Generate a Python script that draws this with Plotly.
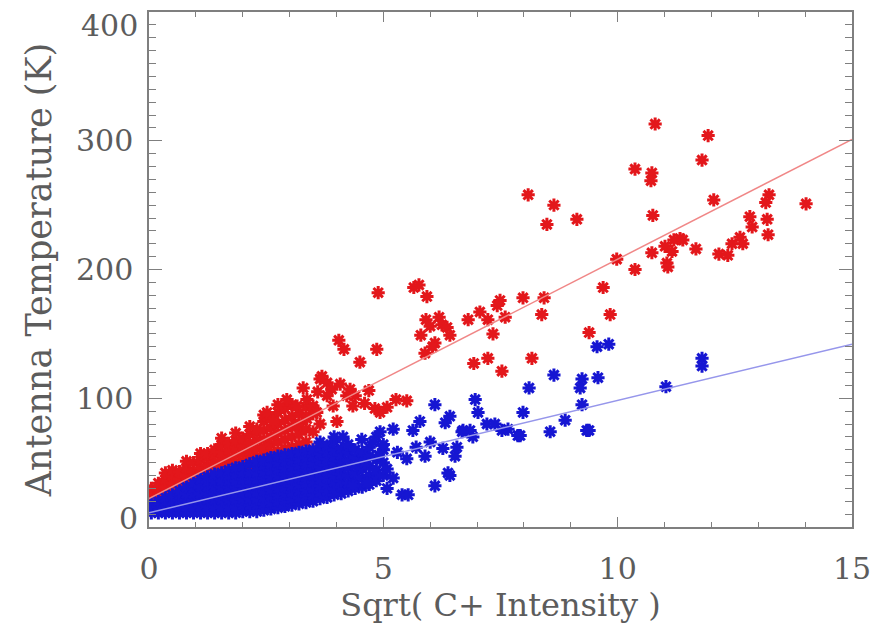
import plotly.graph_objects as go

# ---------------- data ----------------
# dense red cloud, column by column (x positions and the y values seen in each column)
red_col_x = [0.05, 0.2, 0.35, 0.5, 0.65, 0.8, 0.95, 1.1, 1.25, 1.4, 1.55, 1.7, 1.85,
             2.0, 2.15, 2.3, 2.45, 2.6, 2.75, 2.9, 3.05, 3.2, 3.35, 3.5, 3.65]
red_col_y = [
    [17, 22, 26, 30],
    [19, 24, 29, 34],
    [21, 26, 31, 37, 42],
    [23, 28, 34, 40, 44],
    [26, 31, 37, 43],
    [28, 34, 40, 46, 51],
    [31, 37, 43, 50],
    [34, 40, 46, 52, 57],
    [36, 42, 48, 54, 57],
    [38, 44, 50, 56, 60],
    [40, 46, 52, 58, 64, 69],
    [42, 48, 54, 60, 65],
    [44, 50, 56, 62, 67, 73],
    [45, 51, 57, 63, 69],
    [47, 53, 59, 65, 72, 78],
    [49, 55, 61, 67, 73, 76],
    [50, 56, 62, 68, 75, 82, 87],
    [52, 58, 64, 70, 77, 85],
    [53, 59, 66, 73, 80, 89],
    [54, 61, 68, 75, 83, 92],
    [55, 62, 70, 78, 86, 95],
    [56, 64, 72, 80, 88],
    [58, 66, 76, 86, 93],
    [60, 74, 88, 92],
    [62, 80, 115],
]
# scattered red points
red_x = [10.80, 11.93, 11.80, 10.37, 10.73, 10.71, 8.09, 8.64, 8.49, 9.13, 13.23, 13.16,
         14.02, 12.05, 10.75, 12.82, 13.19, 12.87, 13.21, 9.98, 11.33, 11.20, 11.39, 11.01,
         11.16, 10.73, 11.67, 12.44, 12.61, 12.67, 12.16, 12.35, 11.05, 11.07, 10.37, 9.69,
         9.84, 9.39, 8.38, 8.43, 7.98, 7.49, 7.60, 7.06, 6.81, 7.23, 7.34, 6.93, 7.23, 7.53,
         8.17, 5.65, 5.76, 5.93, 5.91, 6.19, 6.25, 6.36, 6.42, 5.80, 6.10, 5.89, 5.50, 4.89,
         4.05, 4.16, 4.86, 4.50, 3.29, 3.69, 3.80, 3.90, 4.08, 4.29, 4.40, 4.35, 4.69, 5.27,
         4.82, 5.08, 4.93, 4.01, 2.94, 3.16, 3.37, 3.50, 3.58, 3.37, 3.16, 3.80, 3.93, 4.22,
         2.52, 2.65, 7.43, 6.00, 6.05, 3.60, 4.60, 2.75]
red_y = [313, 304, 285, 278, 275, 269, 258, 250, 235, 239, 258, 252,
         251, 254, 242, 241, 239, 233, 227, 208, 224, 223, 223, 218,
         214, 213, 216, 220, 225, 220, 212, 211, 205, 202, 200, 186,
         165, 151, 165, 178, 178, 176, 163, 167, 161, 161, 150, 127, 131, 121,
         131, 186, 188, 179, 161, 163, 157, 155, 149, 149, 143, 135, 98, 182,
         145, 138, 138, 128, 108, 117, 112, 107, 111, 107, 102, 94, 106, 99,
         92, 93, 89, 82, 99, 94, 99, 94, 89, 84, 79, 102, 94, 102,
         89, 82, 172, 156, 140, 105, 96, 95]

# dense blue cloud, column by column
blue_col_x = [0.05, 0.2, 0.35, 0.5, 0.65, 0.8, 0.95, 1.1, 1.25, 1.4, 1.55, 1.7, 1.85,
              2.0, 2.15, 2.3, 2.45, 2.6, 2.75, 2.9, 3.05, 3.2, 3.35, 3.5, 3.65, 3.8,
              3.95, 4.1, 4.25, 4.4, 4.55, 4.7, 4.85, 5.0]
blue_col_y = [
    [11, 15, 18],
    [11, 16, 20],
    [11, 16, 20, 23],
    [11, 16, 21, 25],
    [11, 16, 21, 25, 28],
    [11, 16, 21, 26, 31],
    [11, 16, 21, 26, 30, 34],
    [11, 16, 21, 26, 31, 37],
    [11, 16, 21, 26, 31, 35, 39],
    [11, 16, 21, 26, 31, 36, 41],
    [11, 16, 21, 26, 31, 36, 42],
    [11, 16, 21, 26, 31, 36, 40, 44],
    [11, 16, 21, 26, 31, 36, 41, 46],
    [12, 17, 22, 27, 32, 37, 42, 47],
    [12, 17, 22, 27, 32, 37, 42, 49],
    [12, 17, 22, 27, 32, 37, 42, 47, 51],
    [13, 18, 23, 28, 33, 38, 43, 48, 52],
    [14, 19, 24, 29, 34, 39, 44, 49, 54],
    [15, 20, 25, 30, 35, 40, 45, 50, 55],
    [16, 21, 26, 31, 36, 41, 46, 51, 56],
    [17, 22, 27, 32, 37, 42, 47, 52, 57],
    [18, 23, 28, 33, 38, 43, 48, 53, 58],
    [19, 24, 29, 34, 39, 44, 49, 54, 59],
    [20, 25, 30, 35, 40, 45, 50, 55, 60],
    [22, 27, 32, 37, 42, 47, 52, 57, 62, 66],
    [23, 28, 33, 38, 43, 48, 53, 58, 63],
    [25, 30, 35, 40, 45, 50, 55, 60, 66, 70],
    [26, 31, 36, 41, 46, 51, 56, 61],
    [28, 34, 40, 46, 52, 58, 64],
    [30, 36, 42, 48, 54, 60],
    [31, 38, 45, 52, 58],
    [33, 40, 47, 55, 62],
    [36, 44, 52, 70],
    [40, 50, 60],
]
# scattered blue points
blue_x = [4.35, 4.65, 4.54, 4.14, 4.78, 4.93, 5.21, 5.63, 6.00, 5.89, 5.50, 5.08, 5.21,
          5.08, 5.40, 5.53, 6.10, 6.38, 6.27, 6.53, 6.57, 6.42, 6.32, 5.78, 6.10, 6.96,
          7.02, 6.70, 6.91, 6.85, 6.68, 7.21, 7.38, 7.53, 7.66, 7.87, 7.92, 7.98, 8.11,
          8.64, 8.56, 8.88, 9.20, 9.24, 9.24, 9.58, 9.34, 9.39, 9.56, 9.81, 11.03, 11.80,
          11.80, 6.42, 5.30, 5.70, 4.90, 4.60, 5.00]
blue_y = [32, 34, 68, 70, 66, 74, 76, 75, 66, 55, 53, 45, 38,
          30, 25, 25, 32, 42, 61, 55, 62, 86, 81, 82, 95, 99,
          89, 75, 70, 75, 74, 80, 80, 75, 76, 71, 71, 89, 108,
          118, 74, 83, 108, 115, 95, 116, 75, 75, 140, 142, 109, 131,
          125, 40, 58, 62, 56, 50, 64]

# fitted lines (end points)
fit_x = [0, 15]
red_fit_y = [22, 301]
blue_fit_y = [11, 142]

x_title = "Sqrt( C+ Intensity )"
y_title = "Antenna Temperature (K)"
x_ticks = [0, 5, 10, 15]
y_ticks = [0, 100, 200, 300, 400]

# ---------------- build ----------------
def flatten(cx, cy):
    xs, ys = [], []
    for xv, col in zip(cx, cy):
        for yv in col:
            xs.append(xv)
            ys.append(yv)
    return xs, ys

rdx, rdy = flatten(red_col_x, red_col_y)
bdx, bdy = flatten(blue_col_x, blue_col_y)

RED = "#e3171b"
BLUE = "#1616d2"
AX = "#7f7f7f"
TXT = "#5c5c5c"
FONT = "DejaVu Serif"

def mk(c):
    return dict(symbol="asterisk-open", size=11, color=c, line=dict(color=c, width=3))

fig = go.Figure()
fig.add_trace(go.Scatter(x=rdx + red_x, y=rdy + red_y, mode="markers", marker=mk(RED),
                         showlegend=False, hoverinfo="skip"))
fig.add_trace(go.Scatter(x=bdx + blue_x, y=bdy + blue_y, mode="markers", marker=mk(BLUE),
                         showlegend=False, hoverinfo="skip"))
fig.add_trace(go.Scatter(x=fit_x, y=red_fit_y, mode="lines",
                         line=dict(color="rgb(240,135,135)", width=1.5), showlegend=False))
fig.add_trace(go.Scatter(x=fit_x, y=blue_fit_y, mode="lines",
                         line=dict(color="rgb(150,150,235)", width=1.5), showlegend=False))

axis_common = dict(showgrid=False, zeroline=False, showline=True, linecolor=AX, linewidth=1.5,
                   mirror="allticks", ticks="inside", tickcolor=AX, tickwidth=1.3,
                   tickfont=dict(family=FONT, size=30, color=TXT))

fig.update_xaxes(range=[0, 15], tickvals=x_ticks, ticklen=10,
                 minor=dict(dtick=1, ticks="inside", ticklen=5, tickcolor=AX, tickwidth=1.1),
                 title=dict(text=x_title, font=dict(family=FONT, size=32, color=TXT), standoff=8),
                 ticklabelstandoff=14, **axis_common)
fig.update_yaxes(range=[0, 400], tickvals=y_ticks,
                 ticktext=["", str(y_ticks[1]), str(y_ticks[2]), str(y_ticks[3]), ""],
                 ticklen=13,
                 minor=dict(dtick=10, ticks="inside", ticklen=7, tickcolor=AX, tickwidth=1.1),
                 title=dict(text=y_title, font=dict(family=FONT, size=35, color=TXT), standoff=14),
                 ticklabelstandoff=8, **axis_common)

# end labels of the y axis sit slightly inside the frame in the original
fig.add_annotation(text=str(y_ticks[-1]), xref="paper", x=0, xanchor="right", xshift=-9,
                   yref="y", y=y_ticks[-1], yshift=-13, showarrow=False,
                   font=dict(family=FONT, size=30, color=TXT))
fig.add_annotation(text=str(y_ticks[0]), xref="paper", x=0, xanchor="right", xshift=-9,
                   yref="y", y=y_ticks[0], yshift=9, showarrow=False,
                   font=dict(family=FONT, size=30, color=TXT))

fig.update_layout(width=887, height=626, margin=dict(l=149, r=35, t=10, b=97),
                  plot_bgcolor="white", paper_bgcolor="white")

fig.write_html("out.html")
